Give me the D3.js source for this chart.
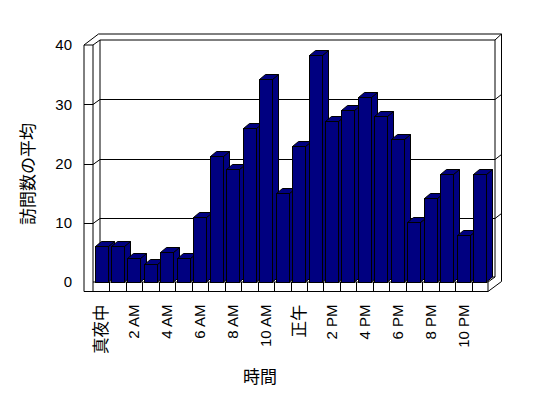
<!DOCTYPE html>
<html><head><meta charset="utf-8">
<script src="https://cdn.jsdelivr.net/npm/d3@7"></script>
<style>
body{margin:0;background:#fff;}
svg text{font-family:"Liberation Sans","Noto Sans CJK JP",sans-serif;fill:#000;}
</style></head>
<body>
<svg id="c" width="548" height="398"></svg>
<script>
const hours = ["0","1","2","3","4","5","6","7","8","9","10","11","12","13","14","15","16","17","18","19","20","21","22","23"];
const visits = [6,6,4,3,5,4,11,21.2,19,26,34.2,15,23,38.3,27.2,29.1,31.2,28.1,24.1,10.1,14.1,18.2,8,18.2];
const tickLabels = {"0":"真夜中","2":"2 AM","4":"4 AM","6":"6 AM","8":"8 AM","10":"10 AM","12":"正午","14":"2 PM","16":"4 PM","18":"6 PM","20":"8 PM","22":"10 PM"};
const yTicks = [0,10,20,30,40];
const yTitle = "訪問数の平均";
const xTitle = "時間";

const svg = d3.select("#c");
const L = 93, R = 488, OUT = 84;
const DX = 7, DY = -5;
const BDX = 6, BDY = -5;
const FLOOR_B = 291.5;

const x = d3.scaleBand().domain(hours).range([L, R]).paddingInner(0.19).paddingOuter(0.095);
const y = d3.scaleLinear().domain([0, 40]).range([282, 45]);
const y0 = y(0), yTop = y(40);
const bw = x.bandwidth();

const g = svg.append("g").attr("fill","none").attr("stroke","#000").attr("stroke-width",1);
const P = (pts) => "M" + pts.map(p => p.join(",")).join("L") + "Z";

g.append("path").attr("fill","#fff").attr("d",
  P([[OUT,FLOOR_B],[OUT,yTop],[OUT+14.5,yTop-11],[R+13.5,yTop-11],[R+13.5,y0-0.5],[R,FLOOR_B]]));
g.append("path").attr("d", P([[L+DX,yTop+DY],[R+DX,yTop+DY],[R+DX,y0+DY],[L+DX,y0+DY]]));
g.append("line").attr("x1",L).attr("y1",yTop).attr("x2",L).attr("y2",FLOOR_B);
g.append("line").attr("x1",OUT).attr("y1",yTop).attr("x2",L).attr("y2",yTop);
g.append("line").attr("x1",L).attr("y1",yTop).attr("x2",L+DX).attr("y2",yTop+DY);
g.append("line").attr("x1",R+DX).attr("y1",yTop+DY).attr("x2",R+13.5).attr("y2",yTop-11);
g.append("line").attr("x1",L).attr("y1",y0).attr("x2",R).attr("y2",y0);
g.append("line").attr("x1",R).attr("y1",y0).attr("x2",R).attr("y2",FLOOR_B);
g.append("line").attr("x1",R).attr("y1",y0).attr("x2",R+DX).attr("y2",y0+DY);
g.append("line").attr("x1",OUT).attr("y1",FLOOR_B).attr("x2",R).attr("y2",FLOOR_B);
const step = x.step();
for (let i = 1; i < hours.length; i++) {
  const xx = Math.round(L + i*step) + 0.5;
  g.append("line").attr("x1",xx).attr("y1",y0).attr("x2",xx).attr("y2",FLOOR_B);
}
yTicks.filter(v => v > 0 && v < 40).forEach(v => {
  const yy = Math.round(y(v)) + 0.5;
  g.append("path").attr("d", `M${OUT},${yy}H${L}L${L+DX},${yy+DY}H${R+DX}L${R+13.5},${yy+DY-5}`);
});

const bars = svg.append("g").attr("stroke","#000").attr("stroke-width",1).attr("fill","#000080");
hours.forEach((h, i) => {
  const bx = Math.round(x(h)) + 0.5, yv = Math.round(y(visits[i])) + 0.5, w = Math.round(bw);
  bars.append("path").attr("d", P([[bx+w,yv],[bx+w+BDX,yv+BDY],[bx+w+BDX,y0+BDY],[bx+w,y0]]));
  bars.append("path").attr("d", P([[bx,yv],[bx+BDX,yv+BDY],[bx+w+BDX,yv+BDY],[bx+w,yv]]));
  bars.append("rect").attr("x",bx).attr("y",yv).attr("width",w).attr("height",y0+0.5-yv);
});

const ya = svg.append("g").attr("transform",`translate(${OUT},0)`)
  .call(d3.axisLeft(y).tickValues(yTicks).tickSize(0).tickPadding(12))
  .attr("font-size",15).attr("font-family",null);
ya.select(".domain").remove();
ya.selectAll("text").attr("fill","#000").style("font-size","15px");

const xa = svg.append("g").attr("transform",`translate(0,${FLOOR_B})`)
  .call(d3.axisBottom(x).tickValues(Object.keys(tickLabels)).tickFormat(d => tickLabels[d]).tickSize(0))
  .attr("font-size",15).attr("font-family",null);
xa.select(".domain").remove();
xa.selectAll("text").attr("fill","#000")
  .style("font-size", d => /[A-Z0-9]/.test(tickLabels[d]) ? "15px" : "16.5px")
  .attr("transform","rotate(-90)").attr("text-anchor","end")
  .attr("x",-13).attr("y",0).attr("dy","0.35em");

svg.append("text").attr("transform","translate(34,174) rotate(-90)")
  .attr("text-anchor","middle").style("font-size","17px").text(yTitle);
svg.append("text").attr("x",260).attr("y",383)
  .attr("text-anchor","middle").style("font-size","17px").text(xTitle);
</script>
</body></html>
